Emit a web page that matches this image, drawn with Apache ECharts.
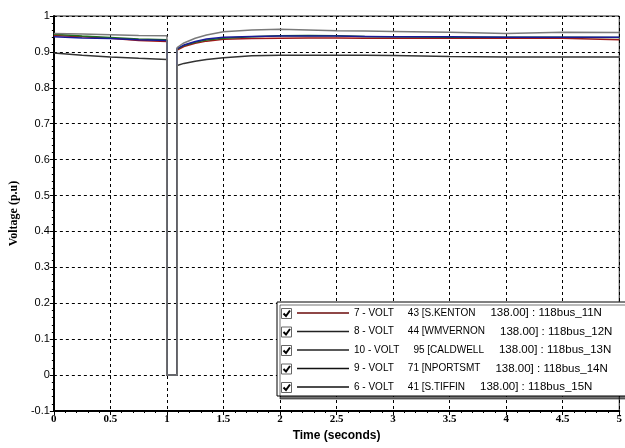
<!DOCTYPE html>
<html lang="en">
<head>
    <meta charset="UTF-8">
    <title>Voltage</title>
    <script src="https://cdn.jsdelivr.net/npm/echarts@6/dist/echarts.min.js"></script>
</head>
<body style="margin: 0; background: #fff">
<div id="container" style="width:625px;height:448px;"></div>
<script>
    // time points (s), shared by all series
    var time = [0, 0.25, 0.5, 0.75, 1.0, 1.0, 1.09, 1.09, 1.15, 1.25, 1.35, 1.5, 1.75, 2.0, 2.25, 2.5, 2.75, 3.0, 3.5, 4.0, 4.5, 5.0];

    var volt7  = [0.946, 0.942, 0.938, 0.932, 0.929, 0, 0, 0.905, 0.915, 0.924, 0.930, 0.935, 0.937, 0.938, 0.939, 0.939, 0.938, 0.938, 0.938, 0.938, 0.938, 0.934];
    var volt8  = [0.949, 0.944, 0.940, 0.936, 0.934, 0, 0, 0.908, 0.918, 0.927, 0.933, 0.938, 0.942, 0.945, 0.946, 0.945, 0.943, 0.942, 0.941, 0.941, 0.941, 0.940];
    var volt10 = [0.942, 0.939, 0.937, 0.934, 0.932, 0, 0, 0.909, 0.919, 0.929, 0.936, 0.941, 0.943, 0.944, 0.944, 0.944, 0.943, 0.942, 0.942, 0.941, 0.941, 0.941];
    var volt9  = [0.951, 0.950, 0.948, 0.946, 0.945, 0, 0, 0.912, 0.925, 0.938, 0.947, 0.956, 0.961, 0.963, 0.961, 0.959, 0.958, 0.957, 0.955, 0.951, 0.955, 0.954];
    var volt6  = [0.897, 0.891, 0.886, 0.882, 0.879, 0, 0, 0.862, 0.868, 0.874, 0.879, 0.884, 0.889, 0.891, 0.891, 0.891, 0.891, 0.890, 0.887, 0.886, 0.886, 0.886];

    var names = [
        "7 - VOLT|43 [S.KENTON|138.00] : 118bus_11N",
        "8 - VOLT|44 [WMVERNON|138.00] : 118bus_12N",
        "10 - VOLT|95 [CALDWELL|138.00] : 118bus_13N",
        "9 - VOLT|71 [NPORTSMT|138.00] : 118bus_14N",
        "6 - VOLT|41 [S.TIFFIN|138.00] : 118bus_15N"
    ];
    var yTicks = [-0.1, 1];

    function pairs(v) {
        return time.map(function (t, i) { return [t, v[i]]; });
    }

    function line(name, v, color) {
        return {
            name: name,
            type: "line",
            symbol: "none",
            data: pairs(v),
            lineStyle: { color: color, width: 1.5 },
            itemStyle: { color: color },
            animation: false
        };
    }

    var dom = document.getElementById("container");
    var myChart = echarts.init(dom, null, { renderer: "canvas" });

    var rowGap = 18.5;
    // checkboxes in the legend
    var boxes = [];
    for (var i = 0; i < 5; i++) {
        var y = 308 + i * rowGap;
        boxes.push({ type: "rect", shape: { x: 281.5, y: y + 0.5, width: 10, height: 10 },
            style: { fill: "#fff", stroke: "#666", lineWidth: 1 }, z: 100 });
        boxes.push({ type: "polyline", shape: { points: [[283.5, y + 5.5], [286, y + 8], [290, y + 2.5]] },
            style: { stroke: "#000", fill: null, lineWidth: 2 }, z: 100 });
    }

    var lineIcon = "path://M0,0L52,0L52,1.6L0,1.6Z";

    var option = {
        backgroundColor: "#fff",
        animation: false,
        grid: { left: 53, right: 4, top: 16, bottom: 37, show: true, borderColor: "#222", borderWidth: 1 },
        xAxis: {
            type: "value",
            min: 0, max: 5, interval: 0.5,
            name: "Time (seconds)",
            nameLocation: "middle",
            nameGap: 15,
            nameTextStyle: { fontFamily: "Liberation Sans", fontWeight: "bold", fontSize: 12, color: "#000" },
            axisLine: { onZero: false, lineStyle: { color: "#000", width: 2 } },
            axisTick: { show: true, length: 4, lineStyle: { color: "#000" } },
            minorTick: { show: true, splitNumber: 5, length: 2, lineStyle: { color: "#000" } },
            axisLabel: { fontFamily: "Liberation Serif", fontWeight: "bold", fontSize: 11, color: "#000", margin: 3 },
            splitLine: { show: true, lineStyle: { color: "#000", type: [3, 3], width: 1 } }
        },
        yAxis: {
            type: "value",
            min: yTicks[0], max: yTicks[1], interval: 0.1,
            name: "Voltage (p.u)",
            nameLocation: "middle",
            nameGap: 24,
            nameTextStyle: { fontFamily: "Liberation Serif", fontWeight: "bold", fontSize: 12, color: "#000" },
            axisLine: { show: true, lineStyle: { color: "#000", width: 2 } },
            axisTick: { show: true, length: 4, lineStyle: { color: "#000" } },
            minorTick: { show: true, splitNumber: 5, length: 2, lineStyle: { color: "#000" } },
            axisLabel: { fontFamily: "Liberation Sans", fontSize: 11, color: "#000", margin: 4 },
            splitLine: { show: true, lineStyle: { color: "#000", type: [3, 3], width: 1 } }
        },
        legend: {
            orient: "vertical",
            left: 277, top: 302,
            padding: [4, 22, 2, 20],
            icon: lineIcon,
            itemWidth: 52, itemHeight: 14, itemGap: 4.5,
            backgroundColor: "#fff",
            borderColor: "#000", borderWidth: 1,
            shadowColor: "rgba(0,0,0,0.55)", shadowOffsetX: 3, shadowOffsetY: 3, shadowBlur: 0,
            data: [
                { name: names[0], itemStyle: { color: "#6a0a0a" } },
                { name: names[1], itemStyle: { color: "#222" } },
                { name: names[2], itemStyle: { color: "#222" } },
                { name: names[3], itemStyle: { color: "#111" } },
                { name: names[4], itemStyle: { color: "#111" } }
            ],
            formatter: function (n) {
                var p = n.split("|");
                return "{a|" + p[0] + "}{b|" + p[1] + "}{c|" + p[2] + "}";
            },
            textStyle: {
                fontFamily: "Liberation Sans", fontSize: 10, color: "#000", lineHeight: 14,
                rich: {
                    a: { fontFamily: "Liberation Sans", fontSize: 10, lineHeight: 14, padding: [0, 14, 0, 0] },
                    b: { fontFamily: "Liberation Sans", fontSize: 10, lineHeight: 14, padding: [0, 15, 0, 0] },
                    c: { fontFamily: "Liberation Sans", fontSize: 11.5, lineHeight: 14 }
                }
            }
        },
        graphic: boxes,
        series: [
            line(names[0], volt7, "#a01818"),
            line(names[1], volt8, "#1f6f1f"),
            line(names[2], volt10, "#1a1a9a"),
            line(names[4], volt6, "#333333"),
            line(names[3], volt9, "#7a7a7a")
        ]
    };

    myChart.setOption(option);
</script>
</body>
</html>
